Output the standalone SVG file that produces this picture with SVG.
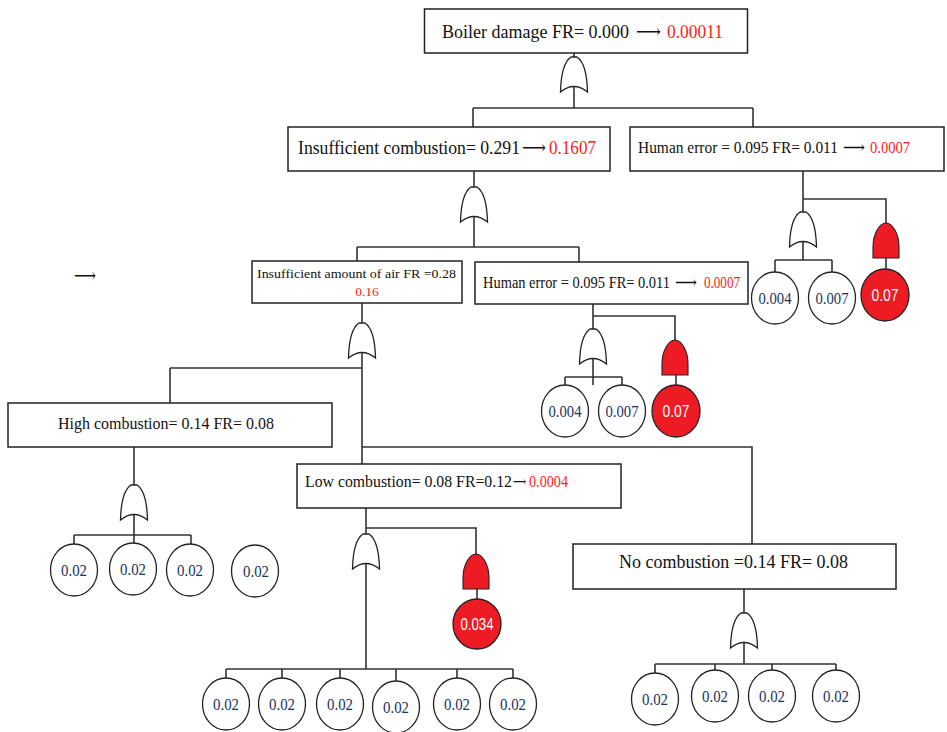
<svg xmlns="http://www.w3.org/2000/svg" width="947" height="732" viewBox="0 0 947 732">
  <style>
    .box { fill: #fff; stroke: #222; stroke-width: 1.5; }
    .wire { fill: none; stroke: #333; stroke-width: 1.6; }
    .or { fill: #fff; stroke: #222; stroke-width: 1.3; }
    .and { fill: #ed1c24; stroke: #222; stroke-width: 1.1; }
    .ev { fill: #fff; stroke: #222; stroke-width: 1.3; }
    .ev-red { fill: #ed1c24; stroke: #222; stroke-width: 1.3; }
    .lbl { font-family: "Liberation Serif", "Times New Roman", "DejaVu Serif", serif; fill: #111; }
    .hot { fill: #ff1a1a; }
    .num { font-family: "Liberation Serif", "Times New Roman", serif; font-size: 17px; fill: #1a3560; text-anchor: middle; }
    .num-w { font-family: "Liberation Sans", Arial, "DejaVu Sans", sans-serif; font-size: 16px; fill: #fff; text-anchor: middle; }
  </style>
  <defs>
    <!-- OR gate: origin at the top centre -->
    <path id="or-gate" class="or" d="M-3,0 L3,0 C9,4 13,14 13.5,35 Q0,24 -13.5,35 C-13,14 -9,4 -3,0 Z"/>
    <!-- AND gate: origin at the top centre -->
    <path id="and-gate" class="and" d="M-13,35 L-13,24 C-13,10 -6,0 0,0 C6,0 13,10 13,24 L13,35 Z"/>
  </defs>

  <rect width="947" height="732" fill="#fff"/>

  <!-- connectors -->
  <g id="connectors" class="wire">
    <!-- top event -->
    <path d="M574,53 V108 M473,108 H753 M473,108 V127 M753,108 V127"/>
    <!-- insufficient combustion -->
    <path d="M474,171 V247 M357,247 H579 M357,247 V261 M579,247 V262"/>
    <!-- human error (upper) -->
    <path d="M803,171 V260 M803,199 H886 V223 M775,260 H832 M775,260 V272 M832,260 V272 M886,258 V269"/>
    <!-- insufficient amount of air -->
    <path d="M362,303 V464 M170,368 H362 M170,368 V403 M362,447 H752 V544"/>
    <!-- human error (middle) -->
    <path d="M593,304 V385 M593,316 H675 V340 M565,377 H622 M565,377 V385 M622,377 V385 M676,375 V385"/>
    <!-- high combustion -->
    <path d="M134,447 V544 M74,535 H191 M74,535 V544 M191,535 V544"/>
    <!-- low combustion -->
    <path d="M366,508 V669 M366,528 H476 V554 M477,588 V599 M226,669 H513 M226,669 V678 M282,669 V678 M340,669 V678 M396,669 V681 M457,669 V678 M513,669 V678"/>
    <!-- no combustion -->
    <path d="M744,589 V664 M655,664 H836 M655,664 V673 M715,664 V670 M772,664 V670 M836,664 V670"/>
  </g>

  <!-- gates -->
  <g id="gates">
    <use href="#or-gate" x="574" y="57"/>
    <use href="#or-gate" x="474" y="187"/>
    <use href="#or-gate" x="803" y="212"/>
    <use href="#and-gate" x="886" y="223"/>
    <use href="#or-gate" x="362" y="323"/>
    <use href="#or-gate" x="593" y="329"/>
    <use href="#and-gate" x="675" y="340"/>
    <use href="#or-gate" x="134" y="485"/>
    <use href="#or-gate" x="366" y="534"/>
    <use href="#and-gate" x="476" y="554"/>
    <use href="#or-gate" x="744" y="613"/>
  </g>

  <g id="boiler-damage">
    <rect class="box" x="424.5" y="9" width="323" height="44"/>
    <text class="lbl" y="38" font-size="18"><tspan x="442" textLength="187" lengthAdjust="spacingAndGlyphs">Boiler damage FR= 0.000</tspan><tspan x="636" font-size="20" textLength="25" lengthAdjust="spacingAndGlyphs">⟶</tspan><tspan class="hot" x="667" textLength="56" lengthAdjust="spacingAndGlyphs">0.00011</tspan></text>
  </g>

  <g id="insufficient-combustion">
    <rect class="box" x="288" y="127" width="322" height="44"/>
    <text class="lbl" y="154" font-size="18"><tspan x="298" textLength="222" lengthAdjust="spacingAndGlyphs">Insufficient combustion= 0.291</tspan><tspan x="522" font-size="20" textLength="24" lengthAdjust="spacingAndGlyphs">⟶</tspan><tspan class="hot" x="549" textLength="47" lengthAdjust="spacingAndGlyphs">0.1607</tspan></text>
  </g>

  <g id="human-error-upper">
    <rect class="box" x="630" y="127" width="314" height="44"/>
    <text class="lbl" y="153" font-size="17"><tspan x="638" textLength="200" lengthAdjust="spacingAndGlyphs">Human error = 0.095 FR= 0.011</tspan><tspan x="843" textLength="22" lengthAdjust="spacingAndGlyphs">⟶</tspan><tspan class="hot" x="870" textLength="40" lengthAdjust="spacingAndGlyphs">0.0007</tspan></text>
    <ellipse class="ev" cx="775" cy="298" rx="23.5" ry="26"/>
    <text class="num" x="775" y="304" textLength="33" lengthAdjust="spacingAndGlyphs">0.004</text>
    <ellipse class="ev" cx="832" cy="298" rx="23.5" ry="26"/>
    <text class="num" x="832" y="304" textLength="33" lengthAdjust="spacingAndGlyphs">0.007</text>
    <ellipse class="ev-red" cx="885" cy="295" rx="24" ry="26"/>
    <text class="num-w" x="885" y="301" textLength="27" lengthAdjust="spacingAndGlyphs">0.07</text>
  </g>

  <text id="stray-arrow" class="lbl" x="74" y="282" font-size="20" textLength="22" lengthAdjust="spacingAndGlyphs">⟶</text>

  <g id="insufficient-air">
    <rect class="box" x="252" y="261" width="210" height="42"/>
    <text class="lbl" x="257" y="278" font-size="13.5" textLength="199" lengthAdjust="spacingAndGlyphs">Insufficient amount of air FR =0.28</text>
    <text class="lbl hot" x="367" y="296" font-size="13.5" text-anchor="middle">0.16</text>
  </g>

  <g id="human-error-middle">
    <rect class="box" x="475" y="262" width="273" height="42"/>
    <text class="lbl" y="288" font-size="17"><tspan x="483" textLength="187" lengthAdjust="spacingAndGlyphs">Human error = 0.095 FR= 0.011</tspan><tspan x="675" textLength="22" lengthAdjust="spacingAndGlyphs">⟶</tspan><tspan class="hot" x="704" textLength="36" lengthAdjust="spacingAndGlyphs">0.0007</tspan></text>
    <ellipse class="ev" cx="565" cy="411" rx="23.5" ry="26"/>
    <text class="num" x="565" y="417" textLength="33" lengthAdjust="spacingAndGlyphs">0.004</text>
    <ellipse class="ev" cx="622" cy="411" rx="23.5" ry="26"/>
    <text class="num" x="622" y="417" textLength="33" lengthAdjust="spacingAndGlyphs">0.007</text>
    <ellipse class="ev-red" cx="676" cy="411" rx="24" ry="26"/>
    <text class="num-w" x="676" y="417" textLength="27" lengthAdjust="spacingAndGlyphs">0.07</text>
  </g>

  <g id="high-combustion">
    <rect class="box" x="8" y="403" width="324" height="44"/>
    <text class="lbl" x="58" y="429" font-size="16.5" textLength="216" lengthAdjust="spacingAndGlyphs">High combustion= 0.14 FR= 0.08</text>
    <ellipse class="ev" cx="74" cy="570" rx="23.5" ry="26"/>
    <text class="num" x="74" y="576" textLength="26" lengthAdjust="spacingAndGlyphs">0.02</text>
    <ellipse class="ev" cx="133" cy="569" rx="23.5" ry="26"/>
    <text class="num" x="133" y="575" textLength="26" lengthAdjust="spacingAndGlyphs">0.02</text>
    <ellipse class="ev" cx="190" cy="570" rx="23.5" ry="26"/>
    <text class="num" x="190" y="576" textLength="26" lengthAdjust="spacingAndGlyphs">0.02</text>
    <ellipse class="ev" cx="255" cy="571" rx="23.5" ry="26"/>
    <text class="num" x="256" y="577" textLength="26" lengthAdjust="spacingAndGlyphs">0.02</text>
  </g>

  <g id="low-combustion">
    <rect class="box" x="297" y="464" width="324" height="44"/>
    <text class="lbl" y="487" font-size="16"><tspan x="305" textLength="207" lengthAdjust="spacingAndGlyphs">Low combustion= 0.08 FR=0.12</tspan><tspan x="513" textLength="13" lengthAdjust="spacingAndGlyphs">⟶</tspan><tspan class="hot" x="529" textLength="39" lengthAdjust="spacingAndGlyphs">0.0004</tspan></text>
    <ellipse class="ev-red" cx="477" cy="624" rx="24" ry="25"/>
    <text class="num-w" x="477" y="630" textLength="33" lengthAdjust="spacingAndGlyphs">0.034</text>
    <ellipse class="ev" cx="226" cy="704" rx="23.5" ry="26"/>
    <text class="num" x="226" y="710" textLength="26" lengthAdjust="spacingAndGlyphs">0.02</text>
    <ellipse class="ev" cx="282" cy="704" rx="23.5" ry="26"/>
    <text class="num" x="282" y="710" textLength="26" lengthAdjust="spacingAndGlyphs">0.02</text>
    <ellipse class="ev" cx="340" cy="704" rx="23.5" ry="26"/>
    <text class="num" x="340" y="710" textLength="26" lengthAdjust="spacingAndGlyphs">0.02</text>
    <ellipse class="ev" cx="396" cy="707" rx="23.5" ry="26"/>
    <text class="num" x="396" y="713" textLength="26" lengthAdjust="spacingAndGlyphs">0.02</text>
    <ellipse class="ev" cx="457" cy="704" rx="23.5" ry="26"/>
    <text class="num" x="457" y="710" textLength="26" lengthAdjust="spacingAndGlyphs">0.02</text>
    <ellipse class="ev" cx="513" cy="704" rx="23.5" ry="26"/>
    <text class="num" x="513" y="710" textLength="26" lengthAdjust="spacingAndGlyphs">0.02</text>
  </g>

  <g id="no-combustion">
    <rect class="box" x="573" y="544" width="323" height="45"/>
    <text class="lbl" x="619" y="568" font-size="18" textLength="229" lengthAdjust="spacingAndGlyphs">No combustion =0.14 FR= 0.08</text>
    <ellipse class="ev" cx="655" cy="699" rx="23.5" ry="26"/>
    <text class="num" x="655" y="705" textLength="26" lengthAdjust="spacingAndGlyphs">0.02</text>
    <ellipse class="ev" cx="715" cy="696" rx="23.5" ry="26"/>
    <text class="num" x="715" y="702" textLength="26" lengthAdjust="spacingAndGlyphs">0.02</text>
    <ellipse class="ev" cx="772" cy="696" rx="23.5" ry="26"/>
    <text class="num" x="772" y="702" textLength="26" lengthAdjust="spacingAndGlyphs">0.02</text>
    <ellipse class="ev" cx="836" cy="696" rx="23.5" ry="26"/>
    <text class="num" x="836" y="702" textLength="26" lengthAdjust="spacingAndGlyphs">0.02</text>
  </g>
</svg>
